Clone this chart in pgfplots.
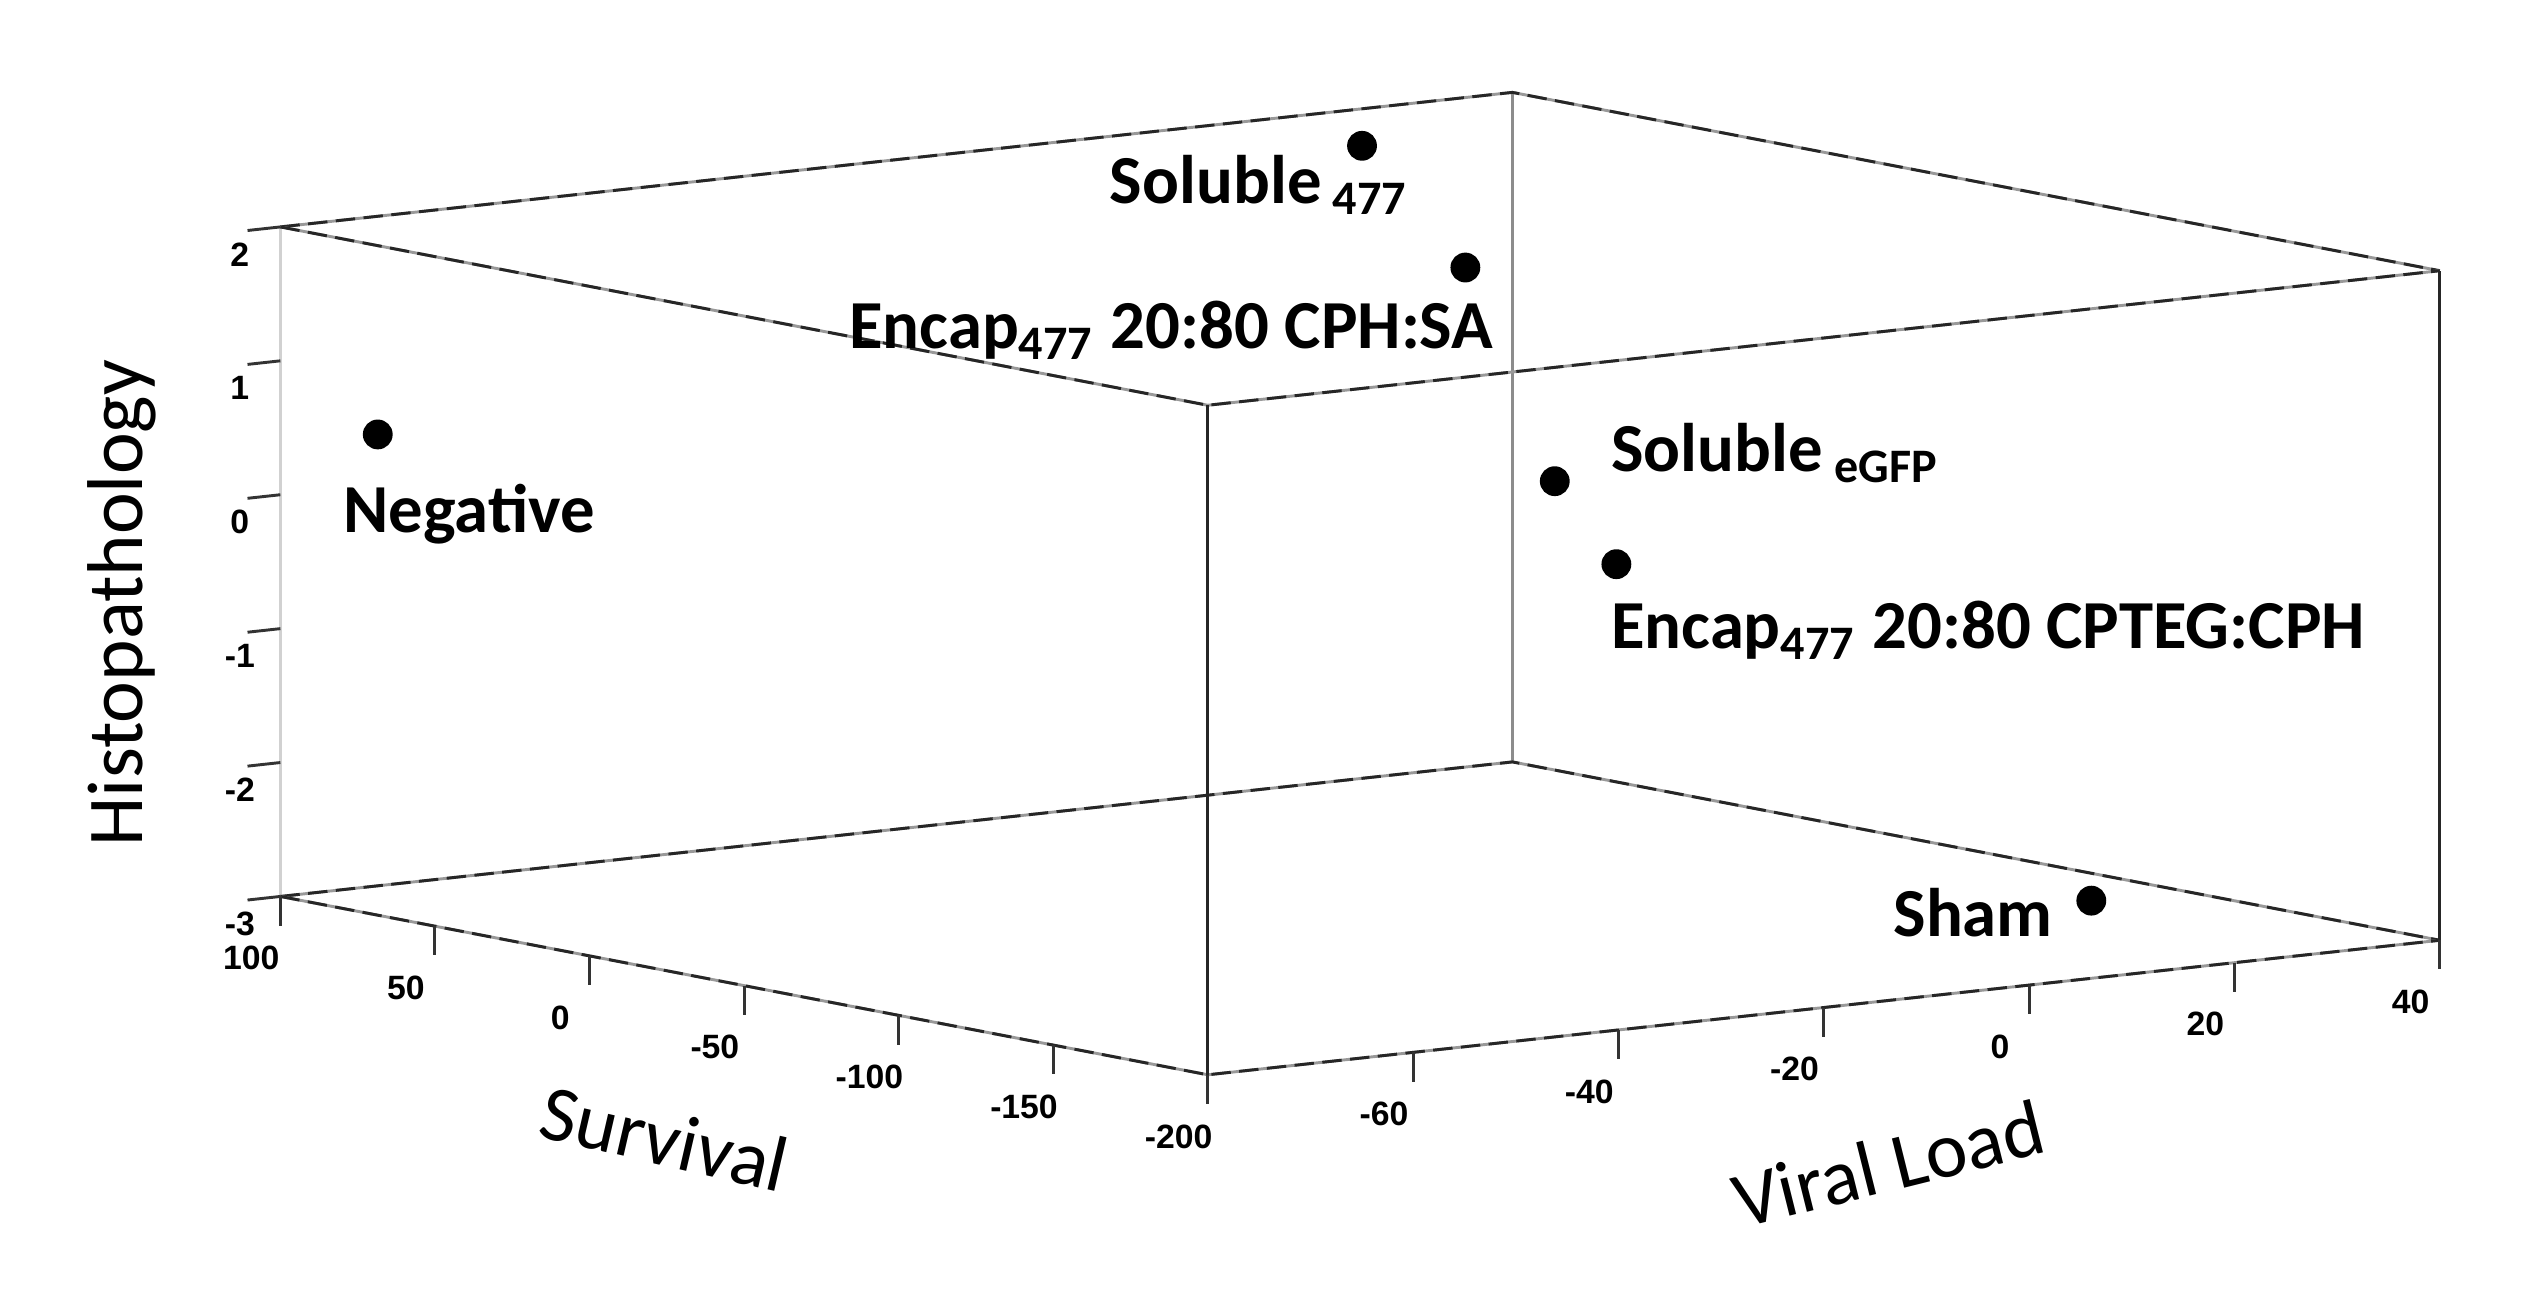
\documentclass[border=0pt]{standalone}
\usepackage{pgfplots}
\pgfplotsset{compat=1.18}
\usepackage{fontspec}
\setmainfont{Carlito}
\newfontfamily\tickfont{Liberation Sans}
\usetikzlibrary{calc}
\tikzset{
  boxedge/.style={black!85, line width=0.45pt, dash pattern=on 3pt off 1.3pt, preaction={draw=black!40, solid, line width=0.45pt}},
  tick/.style={black!80, line width=0.45pt},
  ticklab/.style={font=\tickfont\bfseries\fontsize{5.2}{6}\selectfont, inner sep=0pt},
  ptlab/.style={font=\bfseries\fontsize{10.6}{12}\selectfont, inner sep=0pt},
  axlab/.style={font=\fontsize{12.2}{14}\selectfont, inner sep=0pt},
}
\begin{document}
\begin{tikzpicture}
\begin{axis}[
  x={(-0.4767pt,0.09167pt)},
  y={(1.5833pt,0.1729pt)},
  z={(0pt,20.65pt)},
  xmin=-200, xmax=100, ymin=-80, ymax=40, zmin=-3, zmax=2,
  hide axis,
  clip=false,
]
\coordinate (FL) at (axis cs:-200,-80,-3);
% back / faint edges
\draw[black!18, line width=0.45pt] (axis cs:100,-80,-3) -- (axis cs:100,-80,2);
\draw[black!45, line width=0.45pt] (axis cs:100,40,-3) -- (axis cs:100,40,2);
% bottom edges
\draw[boxedge] (axis cs:100,-80,-3) -- (axis cs:100,40,-3) -- (axis cs:-200,40,-3);
\draw[boxedge] (axis cs:100,-80,-3) -- (axis cs:-200,-80,-3) -- (axis cs:-200,40,-3);
% top edges
\draw[boxedge] (axis cs:100,-80,2) -- (axis cs:100,40,2) -- (axis cs:-200,40,2);
\draw[boxedge] (axis cs:100,-80,2) -- (axis cs:-200,-80,2) -- (axis cs:-200,40,2);
% front verticals
\draw[black!85, line width=0.45pt] (axis cs:-200,-80,-3) -- (axis cs:-200,-80,2);
\draw[black!85, line width=0.45pt] (axis cs:-200,40,-3) -- (axis cs:-200,40,2);
% Survival ticks
\pgfplotsinvokeforeach{-200,-150,-100,-50,0,50,100}{
  \draw[tick] (axis cs:#1,-80,-3) -- ++(0pt,-4.5pt);
  \node[ticklab, xshift=-4.5pt, yshift=-9.5pt] at (axis cs:#1,-80,-3) {#1};
}
% Viral load ticks
\pgfplotsinvokeforeach{-60,-40,-20,0,20,40}{
  \draw[tick] (axis cs:-200,#1,-3) -- ++(0pt,-4.5pt);
  \node[ticklab, xshift=-4.5pt, yshift=-9.5pt] at (axis cs:-200,#1,-3) {#1};
}
% Histopathology ticks
\pgfplotsinvokeforeach{-3,-2,-1,0,1,2}{
  \draw[tick] (axis cs:100,-80,#1) -- (axis cs:100,-83.2,#1);
  \node[ticklab, xshift=-6.25pt, yshift=-4.25pt] at (axis cs:100,-80,#1) {#1};
}
% axis titles
\node[axlab, xshift=-24.5pt, yshift=-6.4pt, rotate=90] at (axis cs:100,-80,-0.5) {Histopathology};
\node[axlab, xshift=-12.25pt, yshift=-23.5pt, rotate=-13] at (axis cs:-50,-80,-3) {Survival};
\node[axlab, xshift=10pt, yshift=-24.1pt, rotate=14] at (axis cs:-200,-20,-3) {Viral Load};
% data
\addplot3[only marks, mark=*, mark size=2.1pt, black] coordinates {
  (60.3,13.4,2)
  (-82.4,-19.5,2)
  (68.5,-80,0.59)
  (-200,-46.2,1.15)
  (-200,-40.2,0.48)
  (-200,6.06,-2.42)
};
% point labels
\node[ptlab, anchor=north east, xshift=7.5pt, yshift=-1.25pt] at (axis cs:60.3,13.4,2) {Soluble\,\textsubscript{477}};
\node[ptlab, anchor=north east, xshift=4.5pt, yshift=-5pt] at (axis cs:-82.4,-19.5,2) {Encap\textsubscript{477} 20:80 CPH:SA};
\node[ptlab, anchor=north west, xshift=-5.5pt, yshift=-7.5pt] at (axis cs:68.5,-80,0.59) {Negative};
\node[ptlab, anchor=base west, xshift=8.5pt, yshift=1.5pt] at (axis cs:-200,-46.2,1.15) {Soluble\,\textsubscript{eGFP}};
\node[ptlab, anchor=north west, xshift=-1pt, yshift=-5.5pt] at (axis cs:-200,-40.2,0.48) {Encap\textsubscript{477} 20:80 CPTEG:CPH};
\node[ptlab, anchor=base east, xshift=-5.75pt, yshift=-5.5pt] at (axis cs:-200,6.06,-2.42) {Sham};
\end{axis}
\pgfresetboundingbox
\path[use as bounding box] ($(FL)+(-186.25pt,-33.75pt)$) rectangle ($(FL)+(205.75pt,165.75pt)$);
\end{tikzpicture}
\end{document}
